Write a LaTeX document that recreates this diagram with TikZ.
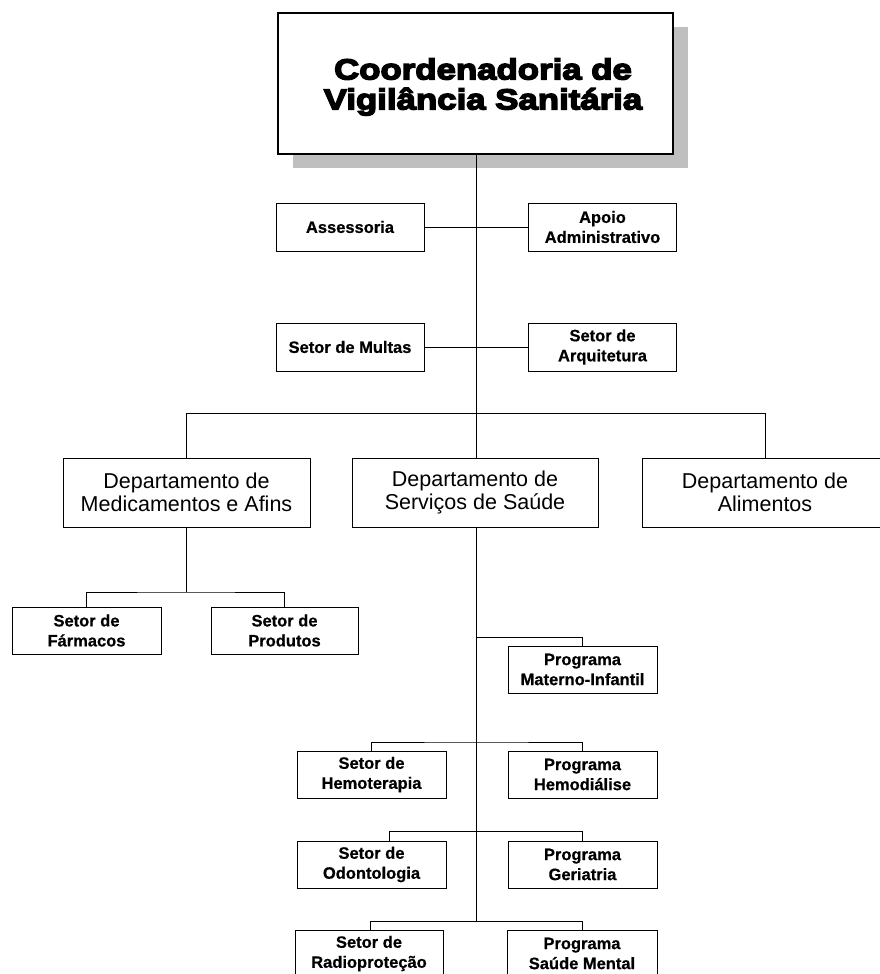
\documentclass[tikz,border=0pt]{standalone}
\usepackage{fontspec}
\setmainfont[BoldFeatures={FakeBold=0.6}]{Liberation Sans}
\newfontfamily\titlefont[FakeStretch=1.2,BoldFeatures={FakeBold=5}]{Liberation Sans}
\begin{document}
\begin{tikzpicture}[x=1pt,y=-1pt,
  line/.style={draw=black,line width=0.9pt},
  smallbox/.style={draw=black,line width=0.9pt,fill=white,rectangle,inner sep=0pt,
    minimum width=148pt,minimum height=48pt,align=center,
    font=\bfseries\fontsize{16.5}{20}\selectfont},
  deptbox/.style={draw=black,line width=0.9pt,fill=white,rectangle,inner sep=0pt,
    minimum width=247pt,minimum height=69pt,align=center,
    font=\fontsize{21.5}{23.5}\selectfont},
  titlebox/.style={draw=black,line width=1.1pt,fill=white,rectangle,inner sep=0pt,
    minimum width=395pt,minimum height=141pt},
  shadowbox/.style={fill=black!25,draw=none,rectangle,inner sep=0pt,
    minimum width=395pt,minimum height=141pt}
]
\useasboundingbox (0,0) rectangle (880,974);
\clip (0,0) rectangle (880,974);

% title box with shadow
\node[shadowbox] (shadow) at (490.5,97.5) {};
\node[titlebox] (top) at (475.5,83.5) {};
\node[font=\titlefont\bfseries\fontsize{29}{30}\selectfont,align=center,inner sep=0pt]
  (title) at (483,87) {Coordenadoria de\\Vigilância Sanitária};

% staff boxes
\node[smallbox] (assess) at (350,227) {Assessoria};
\node[smallbox] (apoio) at (602.5,227) {Apoio\\Administrativo};
\node[smallbox] (multas) at (350,347) {Setor de Multas};
\node[smallbox] (arq) at (602.5,347) {Setor de\\Arquitetura};

% departments
\node[deptbox] (dmed) at (186.5,492.5) {Departamento de\\Medicamentos e Afins};
\node[deptbox,minimum width=246pt] (dserv) at (475,492.5) {Departamento de\\Serviços de Saúde};
\node[deptbox,minimum width=246pt] (dalim) at (765,492.5) {Departamento de\\Alimentos};

% medicamentos sectors
\node[smallbox,minimum width=149pt,minimum height=47pt] (farm) at (86.5,630.5) {Setor de\\Fármacos};
\node[smallbox,minimum width=147pt,minimum height=47pt] (prod) at (284.5,630.5) {Setor de\\Produtos};

% servicos programs
\node[smallbox,minimum width=149pt,minimum height=47pt] (mat) at (582.5,669.5) {Programa\\Materno-Infantil};
\node[smallbox,minimum width=149pt,minimum height=47pt] (hemo) at (371.5,774.5) {Setor de\\Hemoterapia};
\node[smallbox,minimum width=149pt,minimum height=47pt] (hemod) at (582.5,774.5) {Programa\\Hemodiálise};
\node[smallbox,minimum width=149pt,minimum height=47pt] (odon) at (371.5,864.5) {Setor de\\Odontologia};
\node[smallbox,minimum width=149pt,minimum height=47pt] (geri) at (582.5,864.5) {Programa\\Geriatria};
\node[smallbox,minimum width=148pt,minimum height=47pt] (radio) at (369,953.5) {Setor de\\Radioproteção};
\node[smallbox,minimum width=150pt,minimum height=47pt] (saude) at (582,953.5) {Programa\\Saúde Mental};

% junction coordinates
\coordinate (bus) at (476,413);
\coordinate (busl) at (186.5,413);
\coordinate (busr) at (765,413);
\coordinate (jmat) at (476,637);
\coordinate (jhemo) at (476,742);
\coordinate (jodon) at (476,831);
\coordinate (jradio) at (476,921);
\coordinate (jmed) at (186.5,592);

% connectors
\draw[line] (top.south -| bus) -- (bus);
\draw[line] (assess.east) -- (apoio.west);
\draw[line] (multas.east) -- (arq.west);
\draw[line] (dmed.north) -- (busl) -- (busr) -- (dalim.north);
\draw[line] (bus) -- (dserv.north -| bus);
\draw[line] (dserv.south -| bus) -- (jradio);
\draw[line] (dmed.south) -- (jmed);
\draw[line] (farm.north) |- (jmed) -| (prod.north);
\draw[line] (jmat) -| (mat.north);
\draw[line] (hemo.north) |- (jhemo) -| (hemod.north);
\draw[line] ([xshift=17.5pt]odon.north) |- (jodon) -| (geri.north);
\draw[line] ([xshift=1pt]radio.north) |- (jradio) -| (saude.north);
\end{tikzpicture}
\end{document}
